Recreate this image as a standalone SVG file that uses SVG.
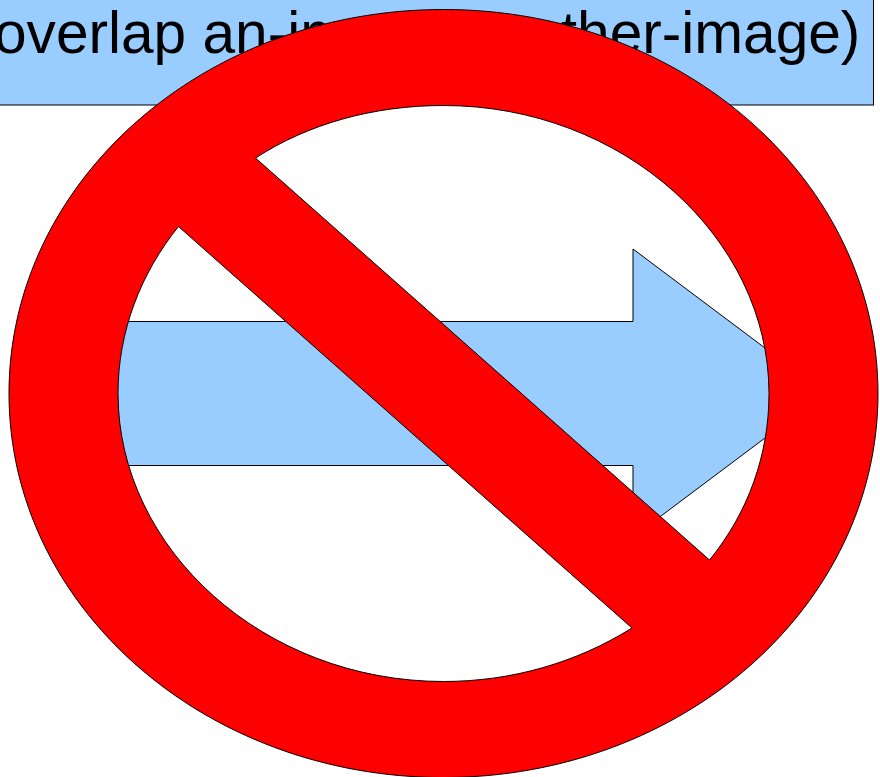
<svg xmlns="http://www.w3.org/2000/svg" width="880" height="777" viewBox="0 0 880 777">
<style>.s{stroke:#000;stroke-width:1}.b{fill:#99ccff}.r{fill:#ff0000}</style>
<rect width="880" height="777" fill="#fff"/>
<g id="banner"><rect class="b s" x="-40" y="-20" width="913.500" height="125"/>
<text x="-6" y="53" font-family="Liberation Sans, Arial, sans-serif" font-size="58.600" fill="#000">overlap an-image another-image)</text></g>
<g id="arrow"><path class="b s" d="M100 321.500H633V249L825 393L633 537V465.500H100Z"/></g>
<g id="prohibition"><path class="r s" fill-rule="evenodd" d="M443.500 9.500C683.500 9.500 878 181.500 878 393.500C878 605.500 683.500 777.500 443.500 777.500C203.500 777.500 9 605.500 9 393.500C9 181.500 203.500 9.500 443.500 9.500ZM255.500 158L709.500 560C748 513 769 455 769 393.500C769 238 623 105.500 443.500 105.500C373 105.500 308 124 255.500 158ZM178.500 226.500C141 273 118 331 118 393.500C118 549 264 681.500 443.500 681.500C511 681.500 576 663 632 628Z"/></g>
</svg>
